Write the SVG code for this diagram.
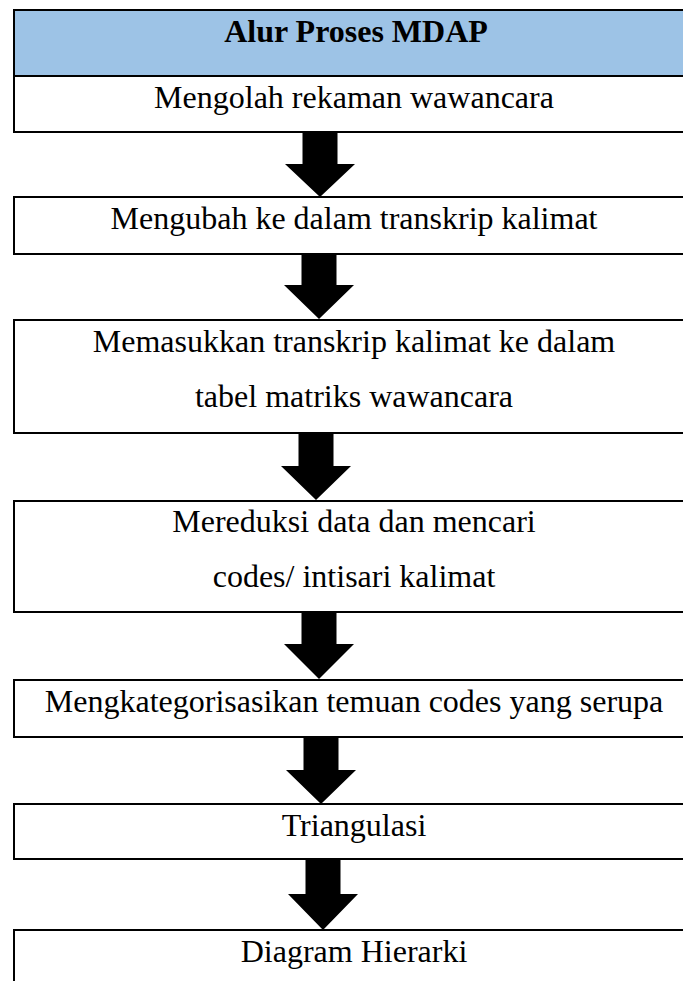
<svg xmlns="http://www.w3.org/2000/svg" width="683" height="981" viewBox="0 0 683 981">
<style>
.box{fill:#ffffff;stroke:#000000;stroke-width:2}
.head{fill:#9dc3e6;stroke:#000000;stroke-width:2}
.t{font-family:"Liberation Serif","Times New Roman",serif;font-size:32px;fill:#000000;text-anchor:middle}
.b{font-weight:bold}
.arr{fill:#000000;stroke:none}
</style>
<rect x="0" y="0" width="683" height="981" fill="#ffffff"/>
<g id="header">
<rect class="head" x="14" y="10" width="682" height="66"/>
<text class="t b" x="356" y="42">Alur Proses MDAP</text>
</g>
<g id="step1">
<rect class="box" x="14" y="76" width="682" height="56"/>
<text class="t" x="354" y="108">Mengolah rekaman wawancara</text>
</g>
<g id="step2">
<rect class="box" x="14" y="197" width="682" height="57"/>
<text class="t" x="354" y="229">Mengubah ke dalam transkrip kalimat</text>
</g>
<g id="step3">
<rect class="box" x="14" y="320" width="682" height="113"/>
<text class="t" x="354" y="352">Memasukkan transkrip kalimat ke dalam</text>
<text class="t" x="354" y="407">tabel matriks wawancara</text>
</g>
<g id="step4">
<rect class="box" x="14" y="501" width="682" height="111"/>
<text class="t" x="354" y="532">Mereduksi data dan mencari</text>
<text class="t" x="354" y="587">codes/ intisari kalimat</text>
</g>
<g id="step5">
<rect class="box" x="14" y="680" width="682" height="57"/>
<text class="t" x="354" y="712">Mengkategorisasikan temuan codes yang serupa</text>
</g>
<g id="step6">
<rect class="box" x="14" y="804" width="682" height="55"/>
<text class="t" x="354" y="836">Triangulasi</text>
</g>
<g id="step7">
<rect class="box" x="14" y="930" width="682" height="70"/>
<text class="t" x="354" y="962">Diagram Hierarki</text>
</g>
<g id="connectors">
<polygon class="arr" points="302.5,132 337.5,132 337.5,164 355,164 320,197 285,164 302.5,164"/>
<polygon class="arr" points="301.5,254 336.5,254 336.5,285 354,285 319,319 284,285 301.5,285"/>
<polygon class="arr" points="298.5,433 333.5,433 333.5,466 351,466 316,500 281,466 298.5,466"/>
<polygon class="arr" points="301.5,612 336.5,612 336.5,644 354,644 319,679 284,644 301.5,644"/>
<polygon class="arr" points="303.5,737 338.5,737 338.5,770 356,770 321,804 286,770 303.5,770"/>
<polygon class="arr" points="305.5,859 340.5,859 340.5,894 358,894 323,930 288,894 305.5,894"/>
</g>
</svg>
